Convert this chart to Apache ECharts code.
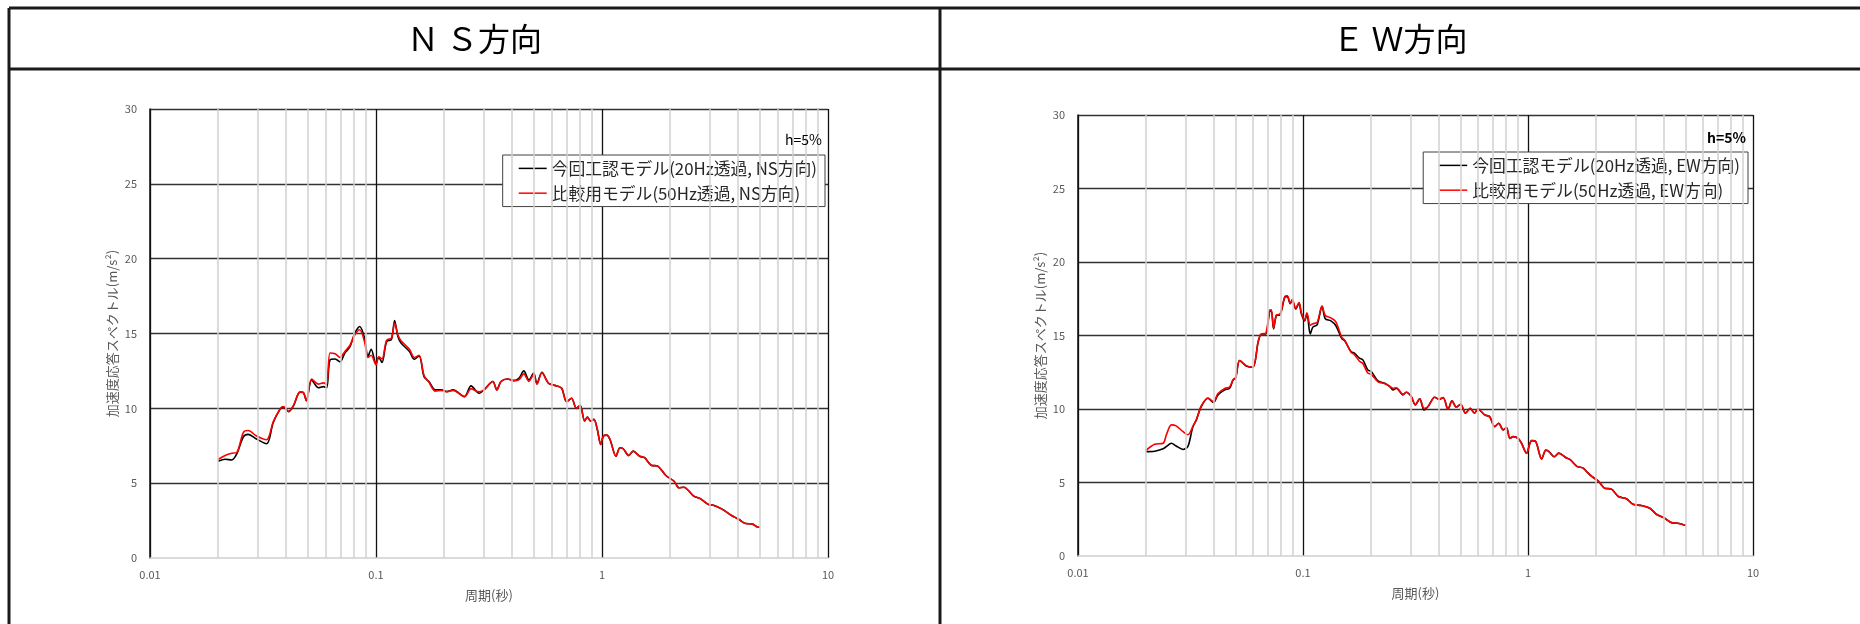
<!DOCTYPE html>
<html><head><meta charset="utf-8">
<script src="https://cdn.jsdelivr.net/npm/echarts@6/dist/echarts.min.js"></script>
<style>html,body{margin:0;padding:0;background:#fff}#c{width:1860px;height:624px}</style>
</head><body><div id="c"></div>
<script>
// ---- data (period in seconds, spectral acceleration in m/s^2) ----
const periodsNS = [0.0200,0.0215,0.0230,0.0242,0.0259,0.0272,0.0296,0.0328,0.0351,0.0376,0.0389,0.0410,0.0431,0.0461,0.0477,0.0492,0.0519,0.0556,0.0585,0.0605,0.0626,0.0660,0.0693,0.0728,0.0766,0.0805,0.0847,0.0890,0.0921,0.0952,0.1000,0.1028,0.1063,0.1114,0.1170,0.1209,0.1250,0.1293,0.1406,0.1477,0.1552,0.1631,0.1714,0.1831,0.1956,0.2055,0.2195,0.2463,0.2633,0.2860,0.3005,0.3288,0.3425,0.3573,0.3817,0.4080,0.4285,0.4510,0.4746,0.4985,0.5155,0.5420,0.5805,0.6310,0.6632,0.6973,0.7331,0.7706,0.8000,0.8380,0.8610,0.8900,0.9210,0.9530,0.9870,1.014,1.049,1.085,1.153,1.200,1.241,1.314,1.373,1.468,1.543,1.650,1.764,1.917,2.084,2.190,2.300,2.545,2.720,2.960,3.110,3.380,3.730,4.040,4.320,4.610,4.860,5.000];
const nsModel20 = [6.47,6.60,6.55,6.95,8.10,8.26,7.95,7.63,9.05,9.93,10.10,9.78,10.16,11.08,11.05,10.50,11.90,11.38,11.45,11.38,13.24,13.30,13.10,13.70,14.10,15.00,15.47,14.70,13.46,13.95,13.00,13.40,13.06,14.46,14.60,15.87,14.80,14.35,13.80,13.28,13.50,12.12,11.79,11.23,11.23,11.12,11.23,10.78,11.50,11.00,11.23,11.79,11.23,11.79,11.96,11.85,12.00,12.50,11.90,12.35,11.67,12.41,11.67,11.50,11.34,10.45,10.67,10.00,10.20,9.15,9.42,9.15,9.26,8.60,7.59,8.15,8.21,7.92,6.80,7.37,7.30,6.85,7.14,6.80,6.70,6.20,6.14,5.51,5.13,4.69,4.73,4.13,3.97,3.57,3.53,3.28,2.86,2.57,2.30,2.28,2.08,2.05];
const nsModel50 = [6.58,6.85,7.00,7.05,8.40,8.52,8.15,7.90,9.10,9.95,10.12,9.80,10.18,11.10,11.07,10.52,11.95,11.62,11.70,11.60,13.70,13.65,13.40,13.80,14.20,14.90,15.25,14.45,13.40,13.55,12.90,13.45,13.30,14.55,14.70,15.70,14.90,14.50,13.95,13.40,13.55,12.20,11.75,11.15,11.20,11.10,11.20,10.78,11.30,11.10,11.23,11.79,11.23,11.79,11.96,11.85,11.90,12.30,11.80,12.25,11.60,12.38,11.67,11.50,11.34,10.45,10.67,10.00,10.20,9.15,9.42,9.15,9.26,8.60,7.59,8.15,8.21,7.92,6.80,7.37,7.30,6.85,7.14,6.80,6.70,6.20,6.14,5.51,5.13,4.69,4.73,4.13,3.97,3.57,3.53,3.28,2.86,2.57,2.30,2.28,2.08,2.05];

const periodsEW = [0.0200,0.0219,0.0239,0.0247,0.0260,0.0273,0.0293,0.0308,0.0324,0.0336,0.0353,0.0378,0.0400,0.0419,0.0449,0.0472,0.0489,0.0502,0.0523,0.0559,0.0599,0.0632,0.0653,0.0683,0.0710,0.0723,0.0740,0.0762,0.0790,0.0830,0.0852,0.0877,0.0896,0.0928,0.0960,0.0983,0.1017,0.1041,0.1077,0.1106,0.1156,0.1215,0.1256,0.1330,0.1398,0.1490,0.1530,0.1636,0.1692,0.1782,0.1845,0.1940,0.2011,0.2155,0.2309,0.2430,0.2513,0.2600,0.2782,0.2878,0.3028,0.3154,0.3302,0.3451,0.3597,0.3848,0.4024,0.4196,0.4411,0.4594,0.4801,0.5017,0.5279,0.5536,0.5788,0.5988,0.6413,0.6750,0.7114,0.7412,0.7757,0.8027,0.8305,0.8593,0.9045,0.9358,0.9850,1.037,1.083,1.150,1.200,1.240,1.310,1.370,1.470,1.540,1.650,1.760,1.820,1.920,2.050,2.120,2.190,2.350,2.520,2.740,2.930,3.190,3.480,3.720,4.050,4.340,4.640,5.020];
const ewModel20 = [7.10,7.13,7.30,7.45,7.67,7.48,7.25,7.45,8.80,9.26,10.17,10.73,10.44,10.96,11.30,11.41,11.98,12.10,13.30,12.93,12.84,14.55,15.10,15.10,16.60,16.70,15.45,16.36,16.40,17.60,17.66,17.16,17.40,16.80,17.20,16.48,16.00,16.48,15.10,15.57,15.73,16.98,16.14,16.00,15.68,14.77,14.66,13.90,13.80,13.46,13.34,12.66,12.55,11.91,11.75,11.53,11.30,11.41,10.96,11.14,10.85,10.28,10.69,9.94,10.17,10.80,10.66,10.78,9.98,10.55,10.12,10.32,9.71,10.05,9.71,10.00,9.60,9.48,8.80,9.03,8.58,8.74,8.00,8.12,8.00,7.67,6.99,7.85,7.78,6.60,7.20,7.10,6.75,7.00,6.70,6.55,6.10,5.98,5.75,5.41,5.11,4.84,4.61,4.55,4.05,3.89,3.52,3.43,3.25,2.84,2.57,2.27,2.23,2.07];
const ewModel50 = [7.17,7.60,7.67,8.24,8.92,8.85,8.46,8.25,8.80,9.30,10.20,10.75,10.50,11.05,11.40,11.50,12.00,12.15,13.30,12.95,12.84,14.60,15.10,15.15,16.70,16.75,15.50,16.40,16.45,17.65,17.70,17.20,17.45,16.85,17.25,16.55,16.05,16.55,15.70,15.80,15.90,17.00,16.36,16.20,15.95,14.85,14.70,13.85,13.70,13.25,13.10,12.45,12.35,11.85,11.72,11.55,11.40,11.45,11.00,11.14,10.85,10.28,10.69,10.05,10.17,10.80,10.66,10.78,9.98,10.55,10.12,10.32,9.71,10.05,9.71,10.00,9.60,9.48,8.80,9.03,8.58,8.74,8.00,8.12,8.00,7.67,6.99,7.85,7.78,6.60,7.20,7.10,6.75,7.00,6.70,6.55,6.10,5.98,5.75,5.41,5.11,4.84,4.61,4.55,4.05,3.89,3.52,3.43,3.25,2.84,2.57,2.27,2.23,2.07];

const minorPeriods = [0.02,0.03,0.04,0.05,0.06,0.07,0.08,0.09,0.2,0.3,0.4,0.5,0.6,0.7,0.8,0.9,2,3,4,5,6,7,8,9];
const xTickLabels = ['0.01','0.1','1','10'];
const panelTitles = ['Ｎ Ｓ方向','Ｅ Ｗ方向'];
const seriesNames = [
  ['今回工認モデル(20Hz透過, NS方向)','比較用モデル(50Hz透過, NS方向)'],
  ['今回工認モデル(20Hz透過, EW方向)','比較用モデル(50Hz透過, EW方向)']
];
const dampingLabel = 'h=5%';
const xAxisTitle = '周期(秒)';
const yAxisTitle = '加速度応答スペクトル(m/s²)';

// ---- layout ----
const FONT = '"Noto Sans CJK JP", "Noto Sans", sans-serif';
const grids = [
  {left:150, top:109, width:678, height:449},
  {left:1078, top:115, width:675, height:441}
];
const legendPos = [{right:1035, top:155},{right:112, top:152}];
const hPos = [{right:1038, top:133},{right:114, top:131}];
const titleX = [474.5, 1400];

function pairs(xs, ys){ return xs.map((x,i)=>[x, ys[i]]); }
function fmtX(v){ const e = Math.round(Math.log10(v)) + 2; return xTickLabels[e] !== undefined ? xTickLabels[e] : ''; }

const xAxes = [], yAxes = [], series = [], legends = [];
const data = [[periodsNS, nsModel20, nsModel50],[periodsEW, ewModel20, ewModel50]];
for (let i = 0; i < 2; i++) {
  xAxes.push({
    type:'log', logBase:10, min:0.01, max:10, gridIndex:i,
    axisLine:{show:true, onZero:false, lineStyle:{color:'#d0d0d0', width:1.5}},
    axisTick:{show:false},
    axisLabel:{color:'#595959', fontSize:11, margin:11, fontFamily:FONT, formatter:fmtX},
    splitLine:{show:true, lineStyle:{color:'#111', width:1.3}},
    minorTick:{show:false}, minorSplitLine:{show:false},
    name:xAxisTitle, nameLocation:'middle', nameGap:31,
    nameTextStyle:{color:'#595959', fontSize:13, fontFamily:FONT}
  });
  yAxes.push({
    type:'value', min:0, max:30, interval:5, gridIndex:i,
    axisLine:{show:true, lineStyle:{color:'#111', width:1.5}},
    axisTick:{show:false},
    axisLabel:{color:'#595959', fontSize:11, margin:13, fontFamily:FONT},
    splitLine:{show:true, showMinLine:false, lineStyle:{color:'#333', width:1.3}},
    name:yAxisTitle, nameLocation:'middle', nameGap:31,
    nameTextStyle:{color:'#595959', fontSize:13, fontFamily:FONT}
  });
  series.push({
    type:'line', xAxisIndex:i, yAxisIndex:i, data:[], z:-1, silent:true, animation:false,
    markLine:{symbol:'none', silent:true, animation:false, label:{show:false},
      lineStyle:{color:'#d0d0d0', width:1.5, type:'solid'},
      data:minorPeriods.map(p=>({xAxis:p}))}
  });
  const [ps, a, b] = data[i];
  series.push({
    name:seriesNames[i][0], type:'line', xAxisIndex:i, yAxisIndex:i, data:pairs(ps, a),
    symbol:'none', smooth:0.3, animation:false, lineStyle:{color:'#000', width:1.6}, itemStyle:{color:'#000'}, z:3
  });
  series.push({
    name:seriesNames[i][1], type:'line', xAxisIndex:i, yAxisIndex:i, data:pairs(ps, b),
    symbol:'none', smooth:0.3, animation:false, lineStyle:{color:'#ff0000', width:1.6}, itemStyle:{color:'#ff0000'}, z:4
  });
  legends.push(Object.assign({
    orient:'vertical', data:seriesNames[i], selectedMode:false,
    icon:'rect', itemWidth:28, itemHeight:1.5,
    backgroundColor:'#fff', borderColor:'#404040', borderWidth:1, borderRadius:0,
    padding:[5,8,5,16], itemGap:8,
    textStyle:{fontSize:16.8, lineHeight:16, color:'#262626', fontFamily:FONT}
  }, legendPos[i]));
}

const graphic = [
  {type:'line', shape:{x1:9, y1:8, x2:1860, y2:8}, style:{stroke:'#1a1a1a', lineWidth:3}},
  {type:'line', shape:{x1:9, y1:69, x2:1860, y2:69}, style:{stroke:'#1a1a1a', lineWidth:3}},
  {type:'line', shape:{x1:9, y1:8, x2:9, y2:624}, style:{stroke:'#1a1a1a', lineWidth:3}},
  {type:'line', shape:{x1:940, y1:8, x2:940, y2:624}, style:{stroke:'#1a1a1a', lineWidth:3}}
];
for (let i = 0; i < 2; i++) {
  graphic.push({type:'text', x:titleX[i], y:39, style:{text:panelTitles[i], textAlign:'center', textVerticalAlign:'middle', font:'32px ' + FONT, fill:'#000'}});
  graphic.push(Object.assign({type:'text', z:10, style:{text:dampingLabel, font:(i===1?'bold ':'') + '14px ' + FONT, fill:'#000'}}, hPos[i]));
}

const chart = echarts.init(document.getElementById('c'), null, {renderer:'canvas'});
chart.setOption({
  animation:false,
  backgroundColor:'#fff',
  textStyle:{fontFamily:FONT},
  grid:grids,
  xAxis:xAxes, yAxis:yAxes, series:series, legend:legends, graphic:graphic
});
</script></body></html>
